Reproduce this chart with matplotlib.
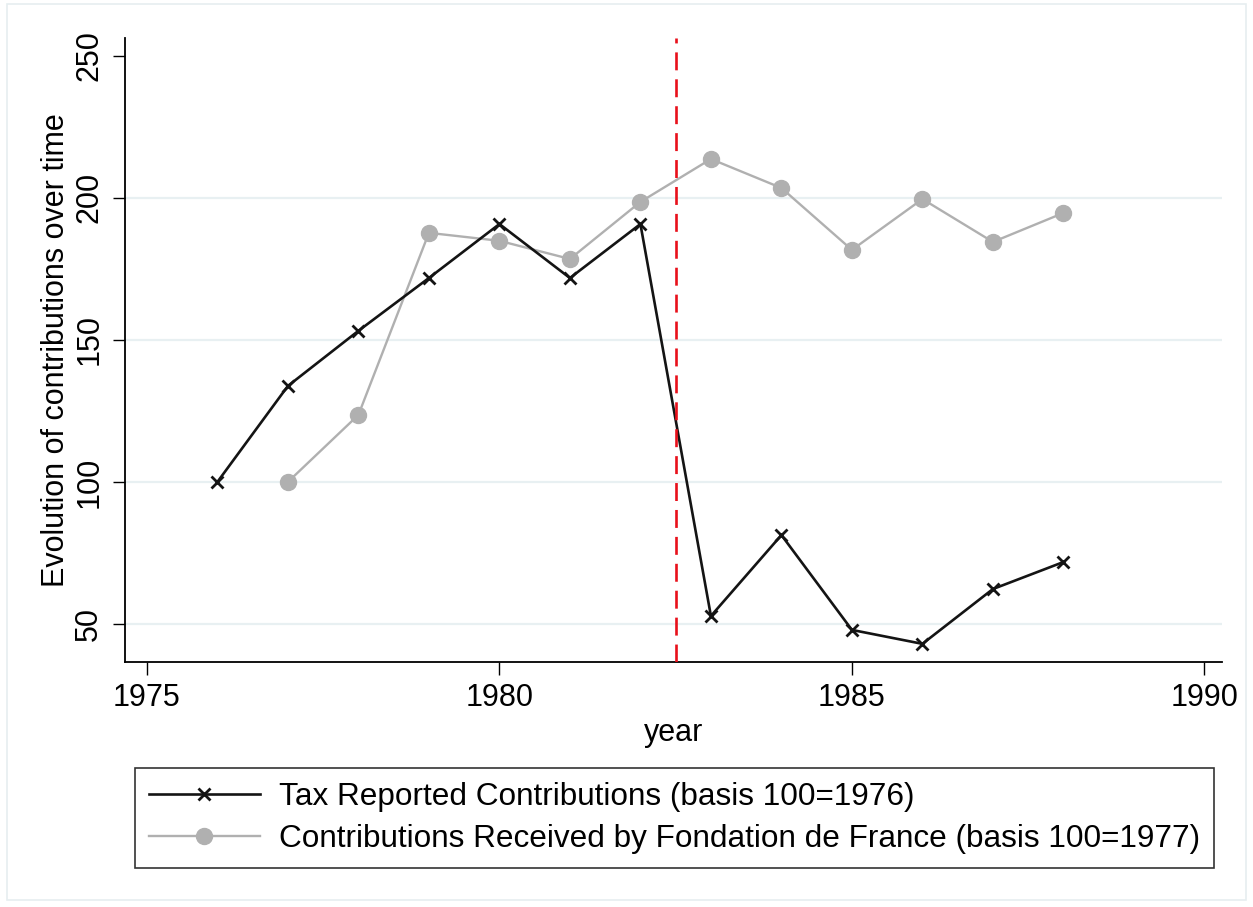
import matplotlib
matplotlib.use('Agg')
import matplotlib.pyplot as plt
from matplotlib.patches import Rectangle

plt.rcParams['font.family'] = ['Liberation Sans', 'DejaVu Sans']

# Données
years_tax = [1976, 1977, 1978, 1979, 1980, 1981, 1982, 1983, 1984, 1985, 1986, 1987, 1988]
tax_vals = [100, 133.8, 153.2, 171.8, 190.8, 171.8, 190.8, 52.8, 81.3, 47.9, 43.0, 62.3, 71.8]

years_fdf = [1977, 1978, 1979, 1980, 1981, 1982, 1983, 1984, 1985, 1986, 1987, 1988]
fdf_vals = [100, 123.6, 187.7, 184.9, 178.5, 198.6, 213.7, 203.5, 181.7, 199.6, 184.5, 194.7]

reform_year = 1982.5
x_ticks = [1975, 1980, 1985, 1990]
y_ticks = [50, 100, 150, 200, 250]
label_tax = 'Tax Reported Contributions (basis 100=1976)'
label_fdf = 'Contributions Received by Fondation de France (basis 100=1977)'

fig = plt.figure(figsize=(12.53, 9.07), dpi=100)
ax = fig.add_axes([0.0998, 0.2701, 0.8755, 0.688])

# cadre léger autour de la figure (style Stata)
fig.patches.append(Rectangle((0.0056, 0.0077), 0.9888, 0.9879, transform=fig.transFigure,
                             fill=False, edgecolor='#e6eef0', linewidth=1.2))

# grille horizontale
for y in y_ticks[:-1]:
    ax.axhline(y, color='#e8f0f2', linewidth=1.6, zorder=0)

ax.plot(years_tax, tax_vals, color='#141414', linewidth=1.9, marker='x',
        markersize=8.5, markeredgewidth=2.0, label=label_tax, zorder=3)
ax.plot(years_fdf, fdf_vals, color='#b0b0b0', linewidth=1.7, marker='o',
        markersize=11.5, label=label_fdf, zorder=2)

ax.axvline(reform_year, color='#e8101a', linewidth=1.9, linestyle=(0, (6.8, 3.4)), zorder=4)

ax.set_xlim(1974.69, 1990.25)
ax.set_ylim(36.6, 256.3)
ax.set_xticks(x_ticks)
ax.set_yticks(y_ticks)
ax.set_xticklabels([str(t) for t in x_ticks], fontsize=22)
ax.set_yticklabels([str(t) for t in y_ticks], fontsize=22, rotation=90, va='center')

ax.tick_params(axis='both', direction='out', length=9, width=1, color='black')
ax.tick_params(axis='x', pad=6)
ax.tick_params(axis='y', pad=6)

for s in ['top', 'right']:
    ax.spines[s].set_visible(False)
for s in ['left', 'bottom']:
    ax.spines[s].set_linewidth(1.3)

ax.set_xlabel('year', fontsize=22, labelpad=4)
ax.set_ylabel('Evolution of contributions over time', fontsize=22, labelpad=2)

leg = fig.legend(loc='center', bbox_to_anchor=(0.5383, 0.0981), fontsize=22.7, frameon=True,
                 fancybox=False, edgecolor='black', handlelength=3.5, handletextpad=0.6,
                 borderpad=0.45, labelspacing=0.39, borderaxespad=0)
leg.get_frame().set_linewidth(1.2)

fig.savefig('out.png', dpi=100)
